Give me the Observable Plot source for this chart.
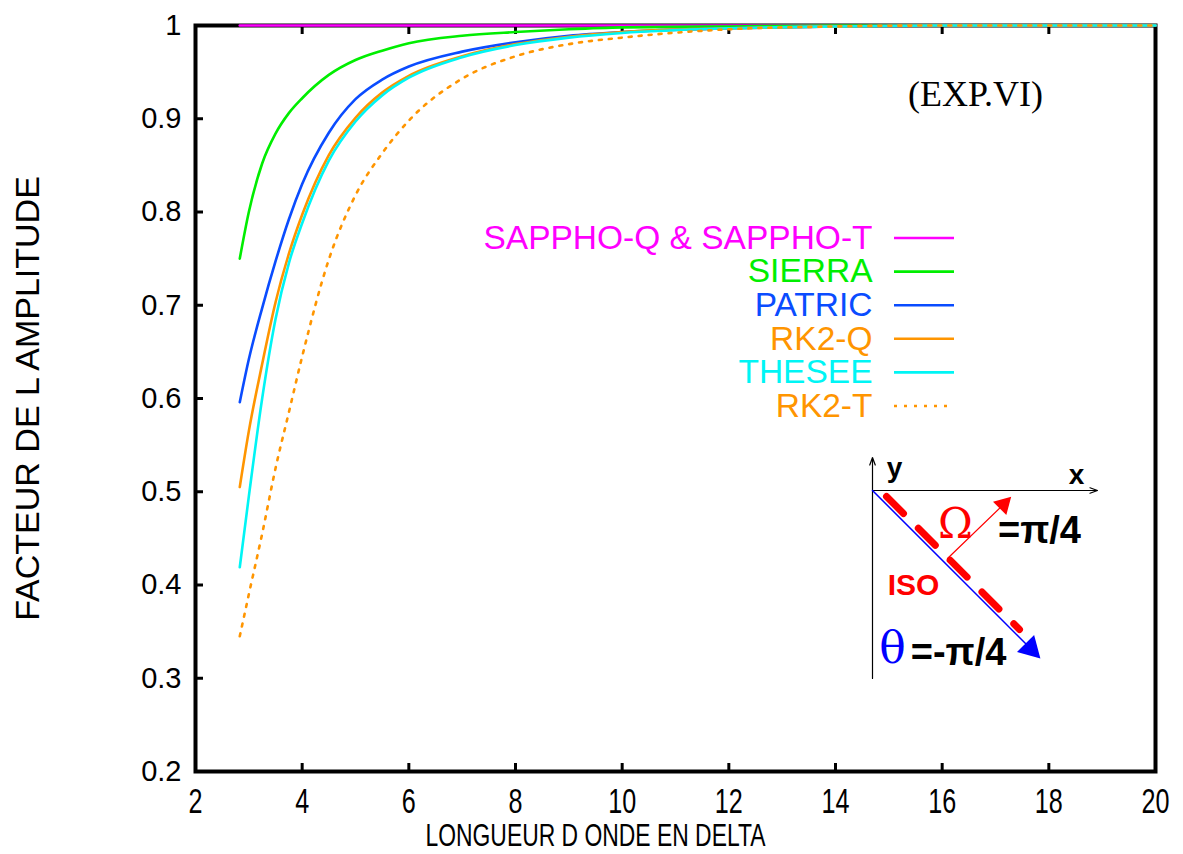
<!DOCTYPE html>
<html><head><meta charset="utf-8">
<script src="https://cdn.jsdelivr.net/npm/d3@7"></script>
<script src="https://cdn.jsdelivr.net/npm/@observablehq/plot@0.6"></script>
<style>body{margin:0;background:#fff} svg{display:block}</style>
</head><body><div id="chart"></div>
<script>
// ---- data ----
const xs      = [2.83, 3.0,  3.25, 3.5,  3.75, 4.0,  4.5,  5.0,  5.5,  6.0,  7.0,  8.0,  9.0,  10.0, 12.0, 14.0, 16.0, 20.0];
const sappho  = [1,    1,    1,    1,    1,    1,    1,    1,    1,    1,    1,    1,    1,    1,    1,    1,    1,    1];
const sierra  = [0.750,0.800,0.852,0.884,0.906,0.922,0.947,0.963,0.973,0.981,0.989,0.993,0.996,0.998,0.999,1.000,1.000,1.000];
const patric  = [0.596,0.642,0.697,0.747,0.792,0.830,0.885,0.921,0.942,0.956,0.972,0.982,0.989,0.993,0.997,0.999,1.000,1.000];
const rk2q    = [0.505,0.565,0.637,0.703,0.755,0.797,0.861,0.901,0.928,0.946,0.967,0.980,0.988,0.993,0.997,0.999,1.000,1.000];
const thesee  = [0.419,0.495,0.600,0.685,0.745,0.788,0.855,0.897,0.925,0.944,0.966,0.979,0.987,0.992,0.997,0.999,1.000,1.000];
const rk2t    = [0.345,0.390,0.455,0.525,0.585,0.645,0.749,0.818,0.863,0.898,0.943,0.967,0.980,0.987,0.996,0.999,1.000,1.000];

const names   = ["SAPPHO-Q & SAPPHO-T", "SIERRA", "PATRIC", "RK2-Q", "THESEE", "RK2-T"];
const colors  = ["#ff00ff", "#00ee00", "#0a4cff", "#ff9500", "#00f5f5", "#ff9500"];
const values  = [sappho, sierra, patric, rk2q, thesee, rk2t];
const dashed  = [false, false, false, false, false, true];

const xTicks = [2, 4, 6, 8, 10, 12, 14, 16, 18, 20];
const yTicks = [0.2, 0.3, 0.4, 0.5, 0.6, 0.7, 0.8, 0.9, 1];
const yTickLabels = ["0.2", "0.3", "0.4", "0.5", "0.6", "0.7", "0.8", "0.9", "1"];

const xLabel = "LONGUEUR D ONDE EN DELTA";
const yLabel = "FACTEUR DE L AMPLITUDE";
const note = "(EXP.VI)";

// ---- layout ----
const W = 1183, H = 854;
const mL = 195, mR = 28, mT = 25, mB = 83;
const px = d3.scaleLinear([2, 20], [mL, W - mR]);
const py = d3.scaleLinear([0.2, 1], [H - mB, mT]);
const X = p => px.invert(p), Y = p => py.invert(p);

const rows = names.map((n, i) => ({n, i, color: colors[i], dash: dashed[i]}));
const curveData = names.map((n, i) => xs.map((x, j) => ({x, y: values[i][j]})));

const sans = "'Liberation Sans', Arial, Helvetica, sans-serif";
const serif = "'Liberation Serif', 'Times New Roman', serif";

const marks = [];
marks.push(Plot.frame({stroke: "black", strokeWidth: 4}));
// inward ticks
marks.push(Plot.axisX(xTicks, {anchor: "bottom", tickSize: 8, dy: -8, text: null, strokeWidth: 3}));
marks.push(Plot.axisX(xTicks, {anchor: "top", tickSize: 8, dy: 8, text: null, strokeWidth: 3}));
marks.push(Plot.axisY(yTicks, {anchor: "left", tickSize: 8, dx: 8, text: null, strokeWidth: 3}));
// tick labels
marks.push(Plot.axisX(xTicks, {anchor: "bottom", tickSize: 0, tickPadding: 17, fontSize: 35, fontFamily: sans, label: null}));
marks.push(Plot.axisY(yTicks, {anchor: "left", tickSize: 0, tickPadding: 14, fontSize: 29, fontFamily: sans, label: null, tickFormat: (d, i) => yTickLabels[i]}));
// axis titles
marks.push(Plot.text([xLabel], {text: d => d, frameAnchor: "bottom", dx: -80, dy: 64, fontSize: 32, fontFamily: sans, fill: "black", lineAnchor: "middle"}));
marks.push(Plot.text([yLabel], {text: d => d, frameAnchor: "left", textAnchor: "middle", dx: -167, rotate: -90, fontSize: 34, fontFamily: sans, fill: "black"}));

// curves
names.forEach((n, i) => {
  marks.push(Plot.line(curveData[i], {x: "x", y: "y", stroke: colors[i], strokeWidth: 2.6, curve: "monotone-x",
    strokeDasharray: dashed[i] ? "3,7" : null}));
});

// legend
rows.forEach(r => {
  const yy = Y(237.5 + r.i * 33.6);
  marks.push(Plot.text([r.n], {x: X(872), y: yy, text: d => d, textAnchor: "end", fill: r.color, fontSize: 33.5, fontFamily: sans}));
  marks.push(Plot.ruleY([yy], {x1: X(894), x2: X(954), stroke: r.color, strokeWidth: 2.6, strokeDasharray: r.dash ? "3,7" : null}));
});

// note
marks.push(Plot.text([note], {x: X(975), y: Y(94), text: d => d, fontSize: 36, fontFamily: serif, fill: "black"}));

// ---- inset diagram ----
const axesArrows = [
  {x1: X(872), y1: Y(678), x2: X(872), y2: Y(457)},
  {x1: X(872), y1: Y(490), x2: X(1097), y2: Y(490)}
];
marks.push(Plot.arrow(axesArrows, {x1: "x1", y1: "y1", x2: "x2", y2: "y2", stroke: "black", strokeWidth: 1.2, headLength: 10, headAngle: 40}));
marks.push(Plot.line([{x: X(886), y: Y(496)}, {x: X(1019), y: Y(629)}], {x: "x", y: "y", stroke: "#ff0000", strokeWidth: 7, strokeDasharray: "24,21"}));
marks.push(Plot.line([{x: X(872), y: Y(490)}, {x: X(1030), y: Y(648)}], {x: "x", y: "y", stroke: "#0000ff", strokeWidth: 1.5}));
marks.push(Plot.dot([{x: X(1030), y: Y(648)}], {x: "x", y: "y", symbol: "triangle", r: 9, fill: "#0000ff", stroke: "none", rotate: 135}));
marks.push(Plot.line([{x: X(947), y: Y(558)}, {x: X(1003), y: Y(504)}], {x: "x", y: "y", stroke: "#ff0000", strokeWidth: 1.2}));
marks.push(Plot.dot([{x: X(1003), y: Y(504)}], {x: "x", y: "y", symbol: "triangle", r: 7, fill: "#ff0000", stroke: "none", rotate: 45}));

const insetTexts = [
  {t: "y", x: 894, y: 468, c: "black", f: sans, s: 28, w: "bold"},
  {t: "x", x: 1076, y: 475, c: "black", f: sans, s: 28, w: "bold"},
  {t: "Ω", x: 955, y: 524, c: "#ff0000", f: "'DejaVu Serif', serif", s: 42, w: "normal"},
  {t: "=π/4", x: 1039, y: 530, c: "black", f: sans, s: 38, w: "bold"},
  {t: "ISO", x: 913, y: 585, c: "#ff0000", f: sans, s: 30, w: "bold"},
  {t: "θ", x: 892, y: 648, c: "#0000ff", f: "'DejaVu Serif', serif", s: 44, w: "normal"},
  {t: "=-π/4", x: 958, y: 652, c: "black", f: sans, s: 38, w: "bold"}
];
insetTexts.forEach(d => {
  marks.push(Plot.text([d], {x: X(d.x), y: Y(d.y), text: "t", fill: d.c, fontFamily: d.f, fontSize: d.s, fontWeight: d.w, lineAnchor: "middle"}));
});

const chart = Plot.plot({
  width: W, height: H,
  marginLeft: mL, marginRight: mR, marginTop: mT, marginBottom: mB,
  x: {domain: [2, 20]},
  y: {domain: [0.2, 1]},
  style: {background: "white", color: "black"},
  marks
});
document.getElementById("chart").appendChild(chart);

// condensed look of the x-axis texts (as in the reference)
const svg = d3.select(chart);
svg.selectAll('g[aria-label="x-axis tick label"] text').each(function() {
  const w = this.getComputedTextLength();
  this.setAttribute("textLength", (w * 0.72).toFixed(1));
  this.setAttribute("lengthAdjust", "spacingAndGlyphs");
});
svg.selectAll("text").filter(function() { return this.textContent === xLabel; }).each(function() {
  this.setAttribute("textLength", 340);
  this.setAttribute("lengthAdjust", "spacingAndGlyphs");
});
</script>
</body></html>
